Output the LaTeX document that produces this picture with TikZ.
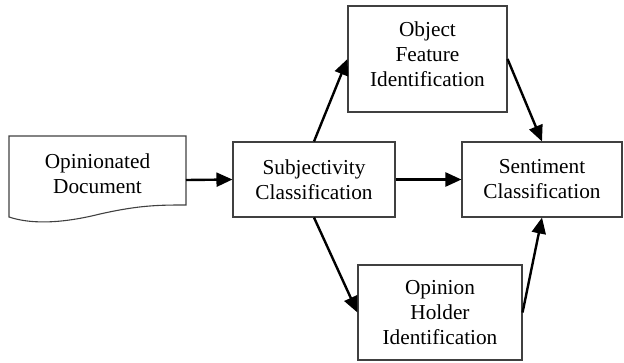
\documentclass[tikz,border=0pt]{standalone}
\usepackage{fontspec}
\setmainfont{Liberation Serif}
\usetikzlibrary{arrows.meta}

\begin{document}
\begin{tikzpicture}[x=1pt,y=-1pt,
        stage/.style={draw=black!75,line width=1.1pt,align=center,inner sep=0pt,
            font=\fontsize{21.3}{25}\selectfont},
        txt/.style={align=center,inner sep=0pt,font=\fontsize{21.3}{25}\selectfont},
        flow/.style={line width=2.4pt,-{Triangle[length=16pt,width=14pt]}}]
        \useasboundingbox (0,0) rectangle (624,362);
        % input document
        \draw [black!75,line width=1.1pt] (9,136) -- (186,136) -- (186,205)
            .. controls (160,205) and (140,205) .. (100,214)
            .. controls (60,224) and (30,224) .. (9,217) -- cycle;
        \node [txt] (doc) at (97.5,174) {Opinionated\\Document};
        \coordinate (docout) at (186,180);
        % stages
        \node [stage,minimum width=162pt,minimum height=75pt] (subj) at (314,179.5)
            {Subjectivity\\Classification};
        \node [stage,minimum width=159pt,minimum height=106pt] (feat) at (427.5,59) {};
        \node [txt] (featlbl) at (427.5,54) {Object\\Feature\\Identification};
        \node [stage,minimum width=164pt,minimum height=95pt] (holder) at (440,312.5)
            {Opinion\\Holder\\Identification};
        \node [stage,minimum width=160pt,minimum height=75pt] (sent) at (542,179.5)
            {Sentiment\\Classification};
        % arrows
        \draw [flow] (docout) -- (subj.west);
        \draw [flow] (subj.north) -- (feat.west);
        \draw [flow] (subj.east) -- (sent.west);
        \draw [flow] (subj.south) -- (holder.west);
        \draw [flow] (feat.east) -- (sent.north);
        \draw [flow] (holder.east) -- (sent.south);
    \end{tikzpicture}
\end{document}
